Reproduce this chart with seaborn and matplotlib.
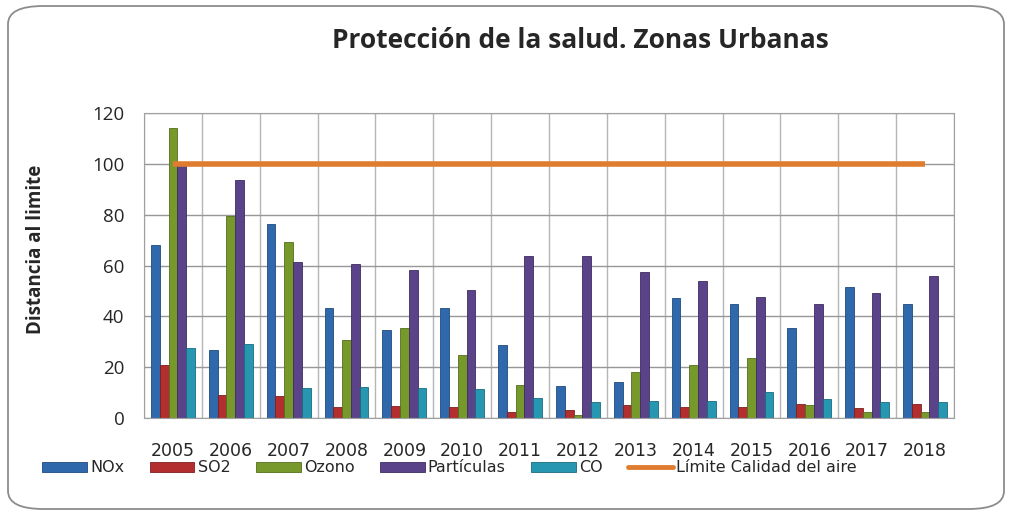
import seaborn as sns
import matplotlib.pyplot as plt
import pandas as pd
import numpy as np
from matplotlib.patches import FancyBboxPatch
from matplotlib.lines import Line2D
from matplotlib.patches import Patch

years = ['2005', '2006', '2007', '2008', '2009', '2010', '2011',
         '2012', '2013', '2014', '2015', '2016', '2017', '2018']
nox = [68.2, 26.9, 76.4, 43.4, 34.7, 43.4, 28.8, 12.4, 14.2, 47.3, 44.7, 35.5, 51.4, 44.7]
so2 = [20.7, 9.2, 8.8, 4.3, 4.8, 4.3, 2.5, 3.3, 5.0, 4.4, 4.4, 5.5, 3.9, 5.5]
ozono = [114.1, 79.6, 69.4, 30.5, 35.5, 24.9, 13.1, 1.0, 18.1, 21.0, 23.7, 5.0, 2.2, 2.4]
particulas = [99.6, 93.5, 61.4, 60.4, 58.3, 50.5, 63.7, 63.7, 57.6, 54.0, 47.6, 44.7, 49.3, 56.0]
co = [27.4, 29.2, 11.9, 12.3, 11.9, 11.6, 7.9, 6.3, 6.8, 6.8, 10.2, 7.5, 6.4, 6.4]
limite = [100] * 14

series = ['NOx', 'SO2', 'Ozono', 'Partículas', 'CO']
colores = ['#2F69AC', '#B32F2F', '#77992B', '#5A4388', '#2796B0']
bordes = ['#1E4A80', '#7E1F1F', '#546E1C', '#3E2D62', '#1A6A80']

# tabla larga para seaborn
df = pd.DataFrame({'Año': years * 5,
                   'Contaminante': np.repeat(series, len(years)),
                   'Valor': nox + so2 + ozono + particulas + co})

sns.set_style('white')
plt.rcParams['font.family'] = ['DejaVu Sans']

fig = plt.figure(figsize=(10.12, 5.15), dpi=100)
ax = fig.add_axes([144 / 1012, 1 - 418 / 515, 810 / 1012, 305 / 515])

sns.barplot(data=df, x='Año', y='Valor', hue='Contaminante', hue_order=series,
            palette=colores, width=0.76, legend=False, ax=ax, saturation=1)

# bordes oscuros por serie
n = len(years)
for i, p in enumerate(ax.patches[:n * 5]):
    p.set_edgecolor(bordes[i // n])
    p.set_linewidth(0.6)

ax.plot(range(n), limite, color='#E07C30', lw=4, solid_capstyle='butt', zorder=5)

ax.set_xlim(-0.5, n - 0.5)
ax.set_ylim(0, 120)
ax.set_yticks(range(0, 121, 20))
ax.set_xticks(np.arange(-0.5, n, 1), minor=True)
ax.grid(True, axis='y', color='#979797', lw=1)
ax.grid(True, axis='x', which='minor', color='#B5B5B5', lw=1)
ax.set_axisbelow(True)
for s in ax.spines.values():
    s.set_color('#A0A0A0')

ax.tick_params(axis='x', which='major', length=0, pad=17, labelsize=12.5)
ax.tick_params(axis='x', which='minor', length=7, color='#A0A0A0', direction='out')
ax.tick_params(axis='y', length=6, color='#A0A0A0', labelsize=13.5, pad=8)
for lab in ax.get_yticklabels():
    lab.set_family(['Open Sans', 'DejaVu Sans'])
ax.set_xlabel('')
ax.set_ylabel('Distancia al limite', fontsize=13.5, fontweight='bold',
              family=['Open Sans', 'DejaVu Sans'])
ax.yaxis.set_label_coords(-0.121, 0.554)

fig.text(580 / 1012, 1 - 40 / 515, 'Protección de la salud. Zonas Urbanas',
         ha='center', va='center', fontsize=19, fontweight='bold',
         family=['Open Sans', 'DejaVu Sans'])

handles = [Patch(facecolor=c, edgecolor=b, lw=0.6) for c, b in zip(colores, bordes)]
handles.append(Line2D([0], [0], color='#E07C30', lw=3.5))
fig.legend(handles, series + ['Límite Calidad del aire'], loc='center left',
           bbox_to_anchor=(42 / 1012, 1 - 468 / 515), ncol=6, frameon=False,
           fontsize=11.5, handlelength=2.8, handleheight=0.55, handletextpad=0.2,
           columnspacing=1.6, borderaxespad=0, borderpad=0)

fig.patches.append(FancyBboxPatch((8 / 1012, 6 / 515), 996 / 1012, 503 / 515,
                                  boxstyle='round,pad=0,rounding_size=0.035',
                                  transform=fig.transFigure, fill=False,
                                  edgecolor='#8C8C8C', lw=1.3, figure=fig))

fig.savefig('out.png', dpi=100)
